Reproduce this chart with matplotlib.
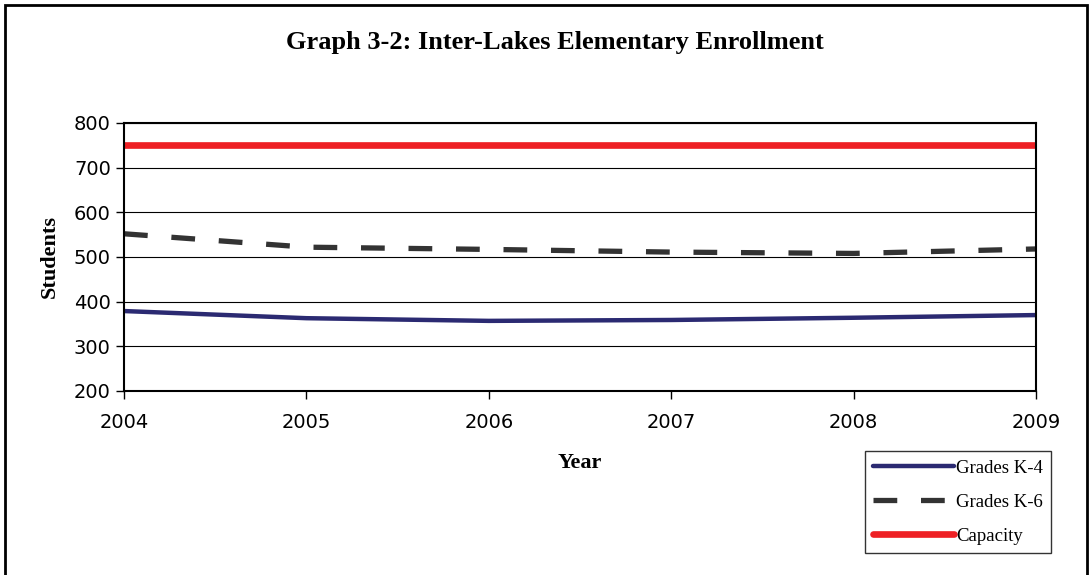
import matplotlib.pyplot as plt
from matplotlib.patches import Rectangle

years = [2004, 2005, 2006, 2007, 2008, 2009]
grades_k4 = [379, 363, 357, 359, 364, 370]
grades_k6 = [552, 522, 517, 511, 508, 518]
capacity = [750, 750, 750, 750, 750, 750]

fig = plt.figure(figsize=(10.92, 5.75), dpi=100)
ax = fig.add_axes([124 / 1092, 1 - 391 / 575, (1036 - 124) / 1092, (391 - 123) / 575])

ax.plot(years, grades_k4, color="#2b2a72", lw=3.2, solid_capstyle="round", label="Grades K-4")
ax.plot(years, grades_k6, color="#333333", lw=3.8, dashes=(4.5, 4.5), label="Grades K-6")
ax.plot(years, capacity, color="#ee2024", lw=4.8, solid_capstyle="round", label="Capacity")

ax.set_xlim(2004, 2009)
ax.set_ylim(200, 800)
ax.set_yticks(range(200, 801, 100))
ax.set_xticks(years)
ax.grid(axis="y", color="black", lw=0.8)
ax.set_axisbelow(True)
for s in ax.spines.values():
    s.set_color("black")
    s.set_linewidth(1.5)
ax.tick_params(labelsize=14, colors="black", length=6, width=1)
ax.tick_params(axis="x", pad=10)

serif = ["Liberation Serif", "DejaVu Serif"]
ax.set_xlabel("Year", family=serif, fontweight="bold", fontsize=16, labelpad=15)
ax.set_ylabel("Students", family=serif, fontweight="bold", fontsize=16, labelpad=10)
fig.text(0.508, 1 - 42 / 575, "Graph 3-2: Inter-Lakes Elementary Enrollment",
         family=serif, fontweight="bold", fontsize=19, ha="center", va="center")

# legend sits outside the axes, bottom right of the figure
leg = ax.legend(loc="upper left", bbox_to_anchor=(865 / 1092, 1 - 451 / 575),
                bbox_transform=fig.transFigure, prop={"family": serif, "size": 13.5},
                frameon=True, fancybox=False, edgecolor="black", handlelength=4.3,
                handletextpad=0.1, borderpad=0.45, labelspacing=0.9, borderaxespad=0)
leg.get_frame().set_linewidth(1)

fig.patches.append(Rectangle((5 / 1092, -0.1), 1082 / 1092, 1.1 - 5 / 575, transform=fig.transFigure,
                             fill=False, edgecolor="black", lw=2))

fig.savefig("out.png", dpi=100)
